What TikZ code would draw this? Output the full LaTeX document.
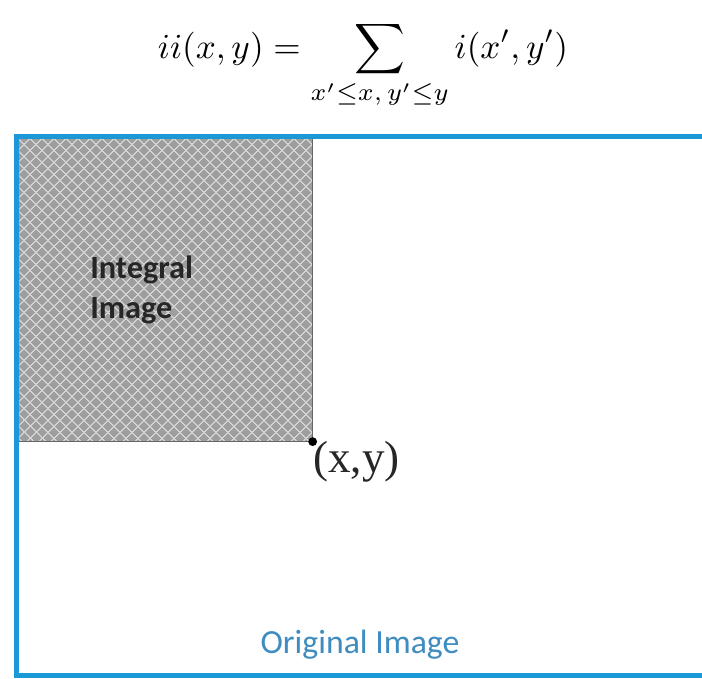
\documentclass[tikz,border=0pt]{standalone}
\usepackage{amsmath,amssymb}
\usepackage{fontspec}
\newfontfamily\calibrifont{Carlito}
\newfontfamily\timesfont{Liberation Serif}
\usepackage{tikz}
\usetikzlibrary{patterns.meta, positioning}
\definecolor{frameblue}{RGB}{27,152,214}
\definecolor{labelblue}{RGB}{62,140,192}
\definecolor{regiongray}{RGB}{158,158,158}
\tikzset{
  %% Frame of the original image
  imgframe/.style={draw=frameblue, line width=3.6pt},
  %% Hatching of the integral region
  hatch/.style={pattern={Lines[angle=#1, distance=6.5pt, line width=1pt]},
                pattern color=white!65!gray},
  %% Shaded integral region
  region/.style={
    rectangle, fill=regiongray, inner sep=0pt,
    postaction={hatch=45}, postaction={hatch=-45}
  },
  %% Corner point
  dot/.style={circle, fill=black, inner sep=0pt, minimum size=2.2mm},
}

\begin{document}
\begin{tikzpicture}[x=0.025cm, y=-0.025cm]

  \clip (0,0) rectangle (702,678);
  \fill[white] (0,0) rectangle (702,678);

  %% Formula
  \node[scale=2.5, inner sep=0pt] (formula) at (363,65)
       {$\displaystyle ii(x,y) = \sum_{x'\le x,\,y'\le y} i(x',y')$};

  %% Integral region
  \node[region, minimum width=7.325cm, minimum height=7.55cm,
        anchor=north west] (integral) at (19,139) {};
  \draw[black!60, line width=0.6pt] (integral.north east)
       -- (integral.south east) -- (integral.south west);

  \node[anchor=north west, inner sep=0pt, align=left,
        font=\calibrifont\bfseries\fontsize{23}{28}\selectfont,
        text=black!85] (ilabel) at (90,256)
       {Integral\\Image};

  %% Point (x,y)
  \node[dot] (pt) at (integral.south east) {};
  \node[anchor=north west, inner sep=0pt,
        font=\timesfont\fontsize{32}{36}\selectfont,
        text=black!85] (ptlabel) at (313,441) {(x,y)};

  %% Frame
  \draw[imgframe] (16.5,136.5) rectangle (720,675.8);
  \node[anchor=base, inner sep=0pt, text=labelblue,
        font=\calibrifont\fontsize{24}{28}\selectfont] (olabel) at (360,653)
       {Original Image};

\end{tikzpicture}
\end{document}
